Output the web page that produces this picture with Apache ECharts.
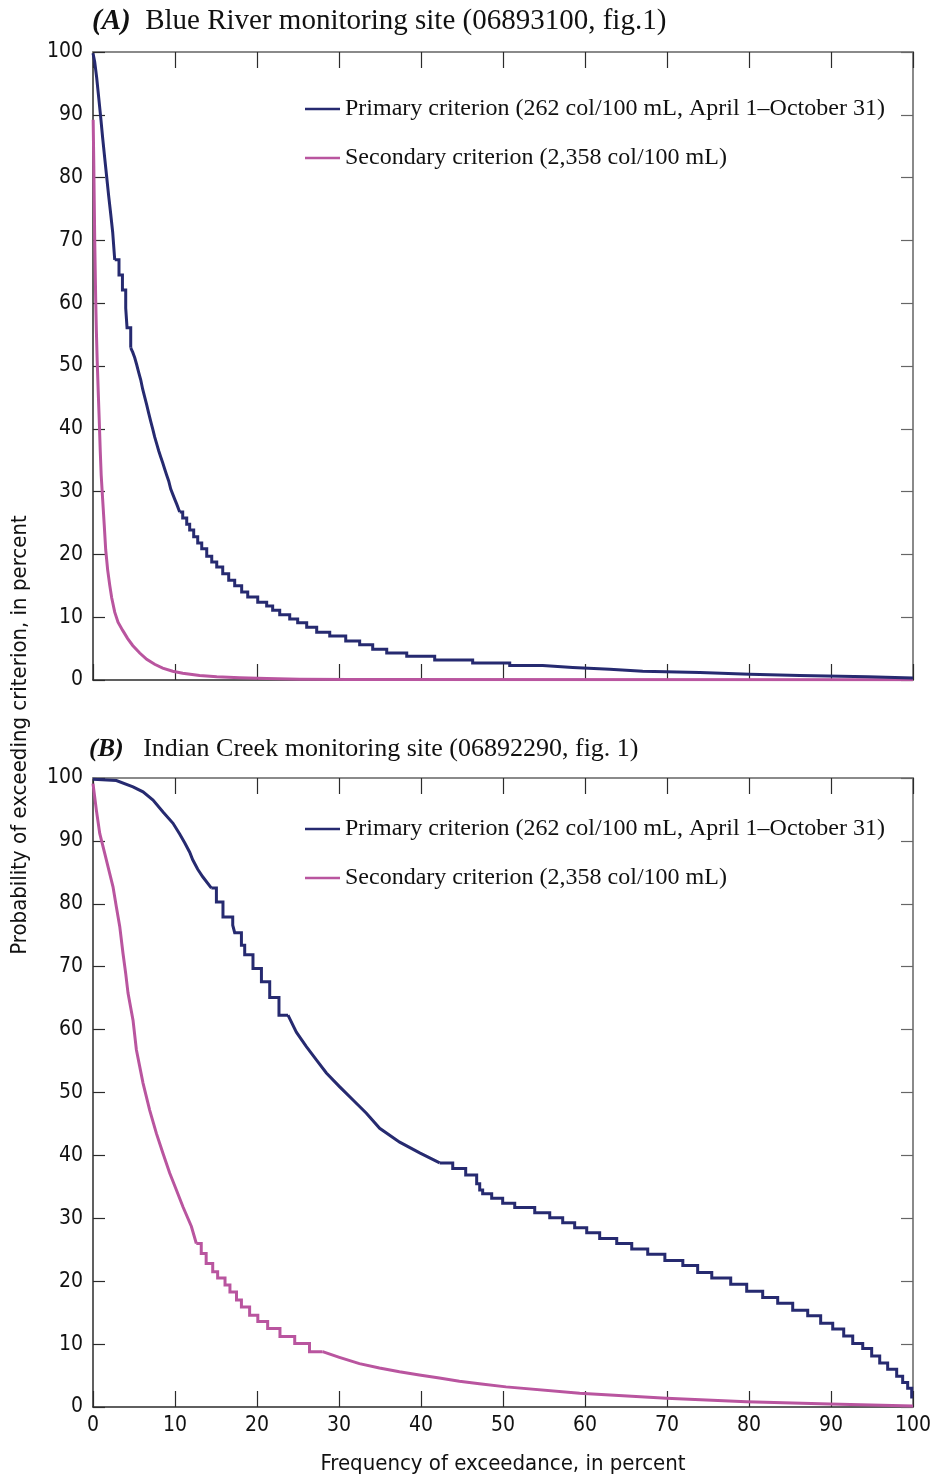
<!DOCTYPE html>
<html>
<head>
<meta charset="utf-8">
<script src="https://cdn.jsdelivr.net/npm/echarts@6/dist/echarts.min.js"></script>
<style>
html,body{margin:0;padding:0;background:#fff;}
#chart{width:930px;height:1482px;}
</style>
</head>
<body>
<div id="chart"></div>
<script>
// ---- Data ----
var xTicks = [0, 10, 20, 30, 40, 50, 60, 70, 80, 90, 100];
var yTicks = [0, 10, 20, 30, 40, 50, 60, 70, 80, 90, 100];

var seriesNames = [
  'Primary criterion (262 col/100 mL, April 1\u2013October 31)',
  'Secondary criterion (2,358 col/100 mL)'
];

var panelTitles = [
  ['(A)', 'Blue River monitoring site (06893100, fig.1)'],
  ['(B)', 'Indian Creek monitoring site (06892290, fig. 1)']
];

// Each curve is read in pieces: "curve" pieces are smooth runs, "steps" pieces are
// visible staircases (each point = start of a tread).  [frequency %, probability %]

// Panel A: Blue River, primary criterion
var blueRiverPrimaryCurve1 = [
  [0,99.8],[0.21,98.4],[0.45,95.9],[0.70,92.7],[0.94,89.6],[1.18,86.3],[1.43,83.1],[1.67,80.1],
  [1.91,77.1],[2.16,74.2],[2.40,71.3],[2.65,66.9]
];
var blueRiverPrimarySteps1 = [
  [2.65,66.9],[3.17,64.5],[3.59,62.1],[3.99,59.2],[4.15,56.1],[4.60,52.9]
];
var blueRiverPrimaryCurve2 = [
  [4.60,52.9],[4.84,52.2],[5.09,51.3],[5.33,50.2],[5.57,49.0],[5.82,47.8],[6.06,46.3],
  [6.30,45.1],[6.55,43.8],[6.79,42.5],[7.04,41.2],[7.28,40.0],[7.52,38.7],[7.77,37.6],[8.01,36.5],
  [8.26,35.5],[8.50,34.6],[8.74,33.6],[8.99,32.6],[9.23,31.7],[9.48,30.4],[9.72,29.6],[9.96,28.8],
  [10.21,28.0],[10.57,26.75]
];
var blueRiverPrimarySteps2 = [
  [10.57,26.75],[10.94,25.8],[11.43,24.8],[11.79,23.9],[12.28,22.8],[12.77,21.8],
  [13.26,20.9],[13.87,19.7],[14.48,18.8],[15.09,18.0],[15.82,16.9],[16.55,15.9],[17.28,15.0],
  [18.13,14.0],[18.87,13.2],[20.09,12.4],[21.18,11.8],[21.91,11.1],[22.77,10.4],[23.99,9.7],
  [24.96,9.1],[26.06,8.4],[27.28,7.6],[28.87,7.0],[30.82,6.2],[32.52,5.6],[34.11,4.9],[35.82,4.3],
  [38.26,3.8],[41.67,3.2],[46.30,2.7],[50.82,2.3],[54.84,2.0],[58.50,1.7],[63.01,1.4],[67.04,1.2],
  [73.99,0.9],[80.09,0.7],[86.19,0.5],[94.48,0.3],[100,0.3]
];

// Panel A: Blue River, secondary criterion
var blueRiverSecondaryCurve = [
  [0.02,89.2],[0.09,82.8],[0.15,76.4],[0.21,70.1],[0.27,65.3],[0.33,60.5],[0.41,55.7],[0.51,50.9],
  [0.63,46.2],[0.76,41.4],[0.88,36.6],[1.00,32.6],[1.18,28.7],[1.37,24.7],[1.55,20.7],[1.79,17.5],
  [2.04,15.1],[2.28,13.1],[2.65,10.8],[3.05,9.2],[3.62,7.9],[4.23,6.6],[4.84,5.5],[5.70,4.3],
  [6.55,3.3],[7.52,2.5],[8.50,1.9],[9.72,1.4],[10.94,1.07],[13.0,0.72],[15.09,0.53],[17.9,0.37],
  [21.2,0.24],[25.2,0.13],[31.3,0.06],[100,0.03]
];

// Panel B: Indian Creek, primary criterion
var indianCreekPrimaryCurve1 = [
  [0,99.8],[2.85,99.6],[4.88,98.6],[6.10,97.8],[7.32,96.5],[8.54,94.6],[9.76,92.8],[10.57,91.1],
  [11.18,89.7],[11.79,88.2],[12.16,87.0],[12.77,85.5],[13.38,84.3],[14.44,82.5]
];
var indianCreekPrimarySteps1 = [
  [14.44,82.5],[15.05,80.3],[15.85,77.9],[17.04,76.6],[17.28,75.4],[18.10,73.4],[18.50,71.9],
  [19.51,69.7],[20.54,67.6],[21.55,65.1],[22.68,62.3],[23.78,62.3]
];
var indianCreekPrimaryCurve2 = [
  [23.78,62.3],[24.80,59.6],[26.02,57.3],[27.24,55.2],[28.46,53.1],[30.09,50.9],[31.71,48.8],
  [33.34,46.7],[34.96,44.3],[37.40,42.1],[39.84,40.4],[42.28,38.8]
];
var indianCreekPrimarySteps2 = [
  [42.28,38.8],[43.87,37.9],[45.45,36.9],[46.79,35.5],[47.16,34.5],[47.52,33.9],[48.62,33.2],
  [49.96,32.4],[51.43,31.7],[53.87,30.9],[55.70,30.1],[57.28,29.3],[58.74,28.5],[60.21,27.7],
  [61.79,26.8],[63.87,26.0],[65.70,25.1],[67.65,24.3],[69.74,23.3],[71.93,22.5],[73.74,21.4],
  [75.46,20.5],[77.77,19.5],[79.72,18.4],[81.67,17.4],[83.50,16.5],[85.33,15.4],[87.16,14.5],
  [88.74,13.3],[90.21,12.4],[91.55,11.3],[92.65,10.1],[93.87,9.3],[94.96,8.1],[95.94,7.0],
  [96.91,6.0],[98.01,4.9],[98.74,3.9],[99.35,3.0],[99.84,1.6],[100,1.6]
];

// Panel B: Indian Creek, secondary criterion
var indianCreekSecondaryCurve1 = [
  [0,99.1],[0.41,94.9],[0.82,91.2],[1.43,88.0],[2.04,84.8],[2.44,82.7],[2.85,79.5],[3.26,76.4],
  [3.66,72.1],[3.99,68.9],[4.27,65.8],[4.88,61.5],[5.29,56.8],[6.10,51.5],[6.91,47.2],[7.73,43.5],
  [8.54,40.3],[9.35,37.2],[10.17,34.5],[10.98,31.8],[12.0,28.7],[12.6,26.0]
];
var indianCreekSecondarySteps = [
  [12.6,26.0],[13.2,24.4],[13.8,22.8],[14.6,21.5],[15.2,20.5],[16.1,19.4],[16.7,18.3],[17.5,17.0],
  [18.1,15.9],[19.1,14.6],[20.1,13.6],[21.3,12.5],[22.8,11.2],[24.6,10.1],[26.4,8.8],[28.0,8.8]
];
var indianCreekSecondaryCurve2 = [
  [28.0,8.8],[30.05,7.9],[32.49,6.9],[34.93,6.2],[37.37,5.6],[39.8,5.1],[42.24,4.6],[44.68,4.1],
  [47.12,3.7],[50.37,3.2],[59.35,2.2],[69.93,1.4],[79.68,0.85],[89.84,0.48],[100,0.16]
];

// ---- Styling ----
var BLUE = '#262a70';
var PINK = '#b9559f';
var DARK = '#2b2b2b';
var GRAY = '#8a8a8a';
var NUM_FONT = '"Liberation Sans Narrow", "DejaVu Sans Condensed", "Liberation Sans", sans-serif';
var SERIF = '"Liberation Serif", "DejaVu Serif", serif';

function xAxisDef(gridIndex, position, showLabels) {
  var isTop = position === 'top';
  return {
    type: 'value', gridIndex: gridIndex, position: position,
    min: xTicks[0], max: xTicks[xTicks.length - 1], interval: xTicks[1] - xTicks[0],
    axisLine: { show: true, onZero: false, lineStyle: { color: isTop ? GRAY : DARK, width: isTop ? 2 : 1.5 } },
    axisTick: { show: true, inside: true, length: 16, lineStyle: { color: DARK, width: 1.2 } },
    axisLabel: { show: showLabels, color: '#111', fontFamily: NUM_FONT, fontSize: 21, margin: 8 },
    splitLine: { show: false }
  };
}
function yAxisDef(gridIndex, position, showLabels) {
  var isRight = position === 'right';
  return {
    type: 'value', gridIndex: gridIndex, position: position,
    min: yTicks[0], max: yTicks[yTicks.length - 1], interval: yTicks[1] - yTicks[0],
    axisLine: { show: true, onZero: false, lineStyle: { color: isRight ? GRAY : DARK, width: isRight ? 2 : 1.5 } },
    axisTick: { show: true, inside: true, length: 12, lineStyle: { color: isRight ? '#666' : DARK, width: 1.2 } },
    axisLabel: { show: showLabels, color: '#111', fontFamily: NUM_FONT, fontSize: 21, margin: 10 },
    splitLine: { show: false }
  };
}

var xAxes = [xAxisDef(0, 'bottom', false), xAxisDef(0, 'top', false), xAxisDef(1, 'bottom', true), xAxisDef(1, 'top', false)];
xAxes[2].name = 'Frequency of exceedance, in percent';
xAxes[2].nameLocation = 'middle';
xAxes[2].nameGap = 46;
xAxes[2].nameTextStyle = { fontFamily: NUM_FONT, fontSize: 22, color: '#111' };

var yAxes = [yAxisDef(0, 'left', true), yAxisDef(0, 'right', false), yAxisDef(1, 'left', true), yAxisDef(1, 'right', false)];

function lineSeries(name, data, color, xi, yi, stepped) {
  return {
    type: 'line', name: name, data: data, step: stepped ? 'end' : false,
    xAxisIndex: xi, yAxisIndex: yi,
    symbol: 'none', silent: true,
    lineStyle: { color: color, width: 3, join: 'miter' },
    itemStyle: { color: color }
  };
}

function legendDef(top) {
  return {
    orient: 'vertical', left: 305, top: top, padding: 0,
    itemWidth: 35, itemHeight: 14, itemGap: 23,
    selectedMode: false,
    data: seriesNames.map(function (n, i) {
      return { name: n, icon: 'path://M0,0 L35,0 L35,2.4 L0,2.4 Z', itemStyle: { color: i === 0 ? BLUE : PINK } };
    }),
    textStyle: { fontFamily: SERIF, fontSize: 24, color: '#111', lineHeight: 26 }
  };
}

function titleDef(idx, left, top, size, gap) {
  return {
    left: left, top: top, padding: 0,
    text: '{b|' + panelTitles[idx][0] + '}' + gap + panelTitles[idx][1],
    textStyle: {
      fontFamily: SERIF, fontSize: size, fontWeight: 'normal', color: '#111',
      rich: { b: { fontFamily: SERIF, fontSize: size, fontWeight: 'bold', fontStyle: 'italic', color: '#111' } }
    }
  };
}

var N0 = seriesNames[0], N1 = seriesNames[1];
var option = {
  backgroundColor: '#fff',
  animation: false,
  title: [titleDef(0, 92, 7, 29, '  '), titleDef(1, 89, 736, 26, '   ')],
  legend: [legendDef(96), legendDef(816)],
  grid: [
    { left: 93, top: 52, width: 820, height: 628, outerBoundsMode: 'none', containLabel: false },
    { left: 93, top: 778, width: 820, height: 629, outerBoundsMode: 'none', containLabel: false }
  ],
  xAxis: xAxes,
  yAxis: yAxes,
  series: [
    lineSeries(N1, blueRiverSecondaryCurve, PINK, 0, 0, false),
    lineSeries(N0, blueRiverPrimaryCurve1, BLUE, 0, 0, false),
    lineSeries(N0, blueRiverPrimarySteps1, BLUE, 0, 0, true),
    lineSeries(N0, blueRiverPrimaryCurve2, BLUE, 0, 0, false),
    lineSeries(N0, blueRiverPrimarySteps2, BLUE, 0, 0, true),
    lineSeries(N1, indianCreekSecondaryCurve1, PINK, 2, 2, false),
    lineSeries(N1, indianCreekSecondarySteps, PINK, 2, 2, true),
    lineSeries(N1, indianCreekSecondaryCurve2, PINK, 2, 2, false),
    lineSeries(N0, indianCreekPrimaryCurve1, BLUE, 2, 2, false),
    lineSeries(N0, indianCreekPrimarySteps1, BLUE, 2, 2, true),
    lineSeries(N0, indianCreekPrimaryCurve2, BLUE, 2, 2, false),
    lineSeries(N0, indianCreekPrimarySteps2, BLUE, 2, 2, true)
  ],
  graphic: [{
    type: 'text', x: 20, y: 735, rotation: Math.PI / 2,
    style: {
      text: 'Probability of exceeding criterion, in percent',
      fontFamily: NUM_FONT, fontSize: 22, fill: '#111',
      textAlign: 'center', textVerticalAlign: 'middle'
    }
  }]
};

var chart = echarts.init(document.getElementById('chart'), null, { renderer: 'canvas' });
chart.setOption(option);
</script>
</body>
</html>
